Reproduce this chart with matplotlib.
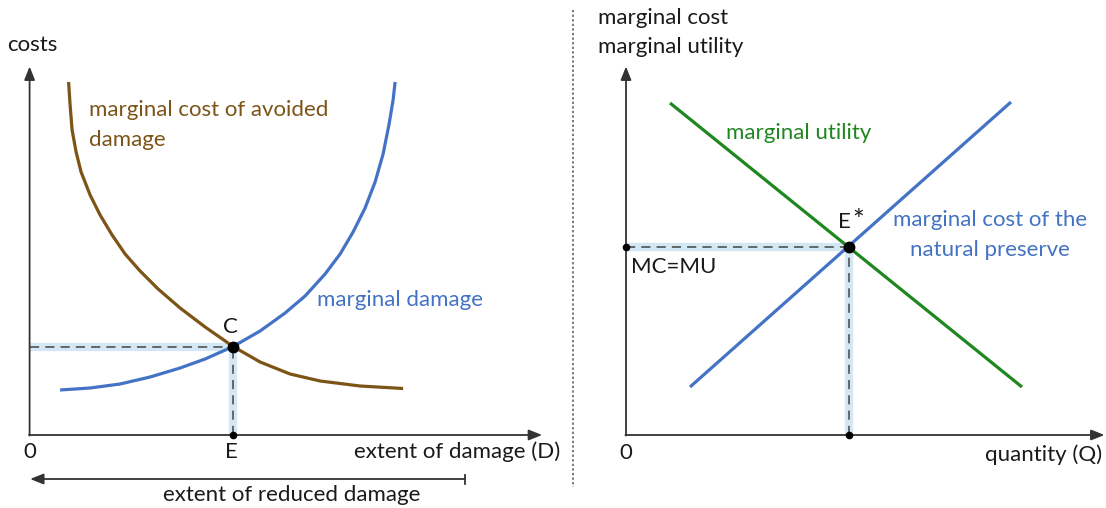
import numpy as np
import matplotlib
matplotlib.use('Agg')
from matplotlib import pyplot as plt
from matplotlib.lines import Line2D

plt.rcParams['font.family'] = ['Lato', 'DejaVu Sans']

################################################################################
# data (arbitrary units, origin at the axes corner)

# left panel: marginal cost of avoided damage / marginal damage
avoided_x = [0.78, 0.81, 0.85, 0.93, 1.03, 1.21, 1.41, 1.65, 1.91, 2.21, 2.57,
			3.01, 3.51, 4.07, 4.61, 5.21, 5.81, 6.61, 7.47]
avoided_y = [7.06, 6.60, 6.10, 5.66, 5.26, 4.80, 4.40, 4.00, 3.62, 3.28, 2.92,
			2.54, 2.16, 1.77, 1.46, 1.22, 1.08, 0.98, 0.93]
damage_x = [0.61, 1.21, 1.81, 2.41, 3.01, 3.51, 4.07, 4.61, 5.11, 5.51, 5.91,
			6.21, 6.47, 6.71, 6.91, 7.07, 7.19, 7.27, 7.31]
damage_y = [0.90, 0.94, 1.02, 1.16, 1.34, 1.52, 1.77, 2.08, 2.44, 2.78, 3.22,
			3.62, 4.06, 4.54, 5.06, 5.62, 6.22, 6.70, 7.06]
point_c = (4.07, 1.77)

# right panel: marginal utility / marginal cost of the natural preserve
utility_x = [0.88, 7.92]
utility_y = [6.64, 0.96]
preserve_x = [1.28, 7.70]
preserve_y = [0.96, 6.66]
point_e = (4.46, 3.76)

################################################################################

axis_col = '#333333'
brown = '#7b5416'
blue = '#4472c4'
green = '#1f871f'
band = '#d3e8f4'
text_col = '#1a1a1a'
fs = 16
arrow = '-|>,head_length=0.8,head_width=0.32'

def draw_axes(ax, x_tip, y_tip):
	ax.annotate('', xy=(x_tip, 0), xytext=(-0.012, 0),
				arrowprops=dict(arrowstyle=arrow, color=axis_col, lw=1.3,
								shrinkA=0, shrinkB=0))
	ax.annotate('', xy=(0, y_tip), xytext=(0, -0.012),
				arrowprops=dict(arrowstyle=arrow, color=axis_col, lw=1.3,
								shrinkA=0, shrinkB=0))

def draw_guides(ax, point, y_dot):
	px, py = point
	ax.plot([0, px], [py, py], color=band, lw=6, solid_capstyle='butt', zorder=1)
	ax.plot([px, px], [0, py], color=band, lw=6, solid_capstyle='butt', zorder=1)
	ax.plot([0, px], [py, py], color='#444444', lw=1.1, dashes=(6, 4), zorder=2)
	ax.plot([px, px], [0, py], color='#444444', lw=1.1, dashes=(6, 4), zorder=2)
	ax.plot([px], [py], 'o', color='black', ms=7.5, zorder=6)
	ax.plot([px], [0], 'o', color='black', ms=4.5, zorder=6)
	if y_dot:
		ax.plot([0], [py], 'o', color='black', ms=4.5, zorder=6)

fig = plt.figure(figsize=(11.06, 5.08), dpi=100)

# left panel
ax1 = fig.add_axes([0, 0, 572/1106, 1])
ax1.set_xlim(-0.592, 10.848)
ax1.set_ylim(-1.46, 8.7)
ax1.axis('off')
draw_axes(ax1, 10.25, 7.37)
draw_guides(ax1, point_c, False)
ax1.plot(avoided_x, avoided_y, color=brown, lw=2.3, zorder=3,
		solid_capstyle='butt', solid_joinstyle='round')
ax1.plot(damage_x, damage_y, color=blue, lw=2.3, zorder=4,
		solid_capstyle='butt', solid_joinstyle='round')
ax1.text(-0.44, 7.8, 'costs', fontsize=fs, color=text_col, va='center')
ax1.text(1.19, 6.5, 'marginal cost of avoided', fontsize=fs, color=brown,
		va='center')
ax1.text(1.19, 5.9, 'damage', fontsize=fs, color=brown, va='center')
ax1.text(5.75, 2.69, 'marginal damage', fontsize=fs, color=blue, va='center')
ax1.text(point_c[0] - 0.05, 2.16, 'C', fontsize=fs, color=text_col,
		ha='center', va='center')
ax1.text(0, -0.35, '0', fontsize=fs, color=text_col, ha='center', va='center')
ax1.text(point_c[0] - 0.03, -0.35, 'E', fontsize=fs, color=text_col,
		ha='center', va='center')
ax1.text(10.61, -0.34, 'extent of damage (D)', fontsize=fs, color=text_col,
		ha='right', va='center')
# extent of reduced damage arrow
ax1.annotate('', xy=(0.01, -0.88), xytext=(8.71, -0.88),
			arrowprops=dict(arrowstyle=arrow, color=axis_col, lw=1.3,
							shrinkA=0, shrinkB=0))
ax1.plot([8.71, 8.71], [-0.79, -0.97], color=axis_col, lw=1.3)
ax1.text(5.25, -1.2, 'extent of reduced damage', fontsize=fs, color=text_col,
		ha='center', va='center')

# right panel
ax2 = fig.add_axes([572/1106, 0, 534/1106, 1])
ax2.set_xlim(-1.08, 9.6)
ax2.set_ylim(-1.46, 8.7)
ax2.axis('off')
draw_axes(ax2, 9.57, 7.37)
draw_guides(ax2, point_e, True)
ax2.plot(utility_x, utility_y, color=green, lw=2.3, zorder=3,
		solid_capstyle='butt')
ax2.plot(preserve_x, preserve_y, color=blue, lw=2.3, zorder=4,
		solid_capstyle='butt')
ax2.text(-0.56, 8.34, 'marginal cost', fontsize=fs, color=text_col,
		va='center')
ax2.text(-0.56, 7.76, 'marginal utility', fontsize=fs, color=text_col,
		va='center')
ax2.text(1.99, 6.04, 'marginal utility', fontsize=fs, color=green, va='center')
ax2.text(4.24, 4.26, 'E', fontsize=fs, color=text_col, va='center')
ax2.text(4.64, 4.26, '*', fontsize=20, color=text_col, ha='center',
		va='center')
ax2.text(7.28, 4.3, 'marginal cost of the', fontsize=fs, color=blue,
		ha='center', va='center')
ax2.text(7.28, 3.7, 'natural preserve', fontsize=fs, color=blue,
		ha='center', va='center')
ax2.text(0.1, 3.36, 'MC=MU', fontsize=fs, color=text_col, va='center')
ax2.text(0, -0.36, '0', fontsize=fs, color=text_col, ha='center', va='center')
ax2.text(9.52, -0.4, 'quantity (Q)', fontsize=fs, color=text_col,
		ha='right', va='center')

# dotted separator
fig.add_artist(Line2D([572.7/1106, 572.7/1106], [1 - 10/508, 1 - 487/508],
					color='#555555', lw=1.1, ls=(0, (1.5, 1.5))))

plt.savefig('out.png', dpi=100)
